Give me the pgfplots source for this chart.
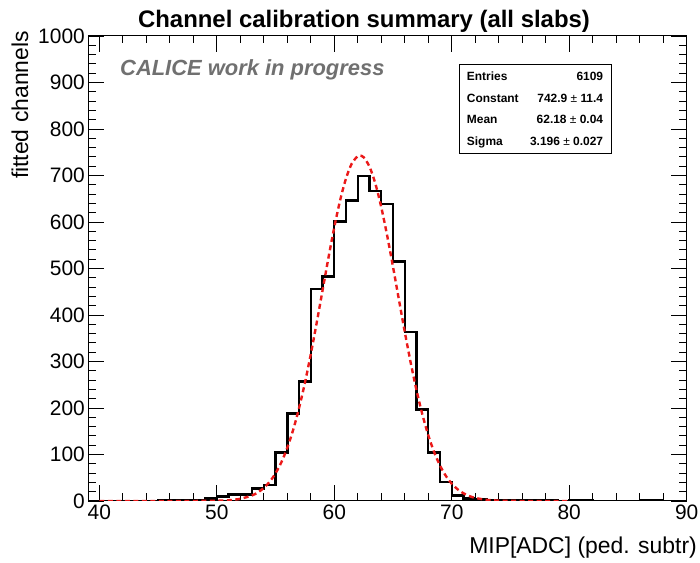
\documentclass[border=0pt]{standalone}
\usepackage{pgfplots}
\pgfplotsset{compat=1.18}
\usepackage{fontspec}
\setmainfont{Liberation Sans}
\definecolor{fitred}{RGB}{235,25,25}
\definecolor{wipgray}{RGB}{112,112,112}

% Histogram of fitted MIP positions, 1 ADC bins (left edge, entries)
\begin{document}
\begin{tikzpicture}[x=1bp,y=1bp]
\path[use as bounding box] (0,0) rectangle (700,563);
\begin{axis}[
  at={(88.3bp,62bp)}, anchor=south west,
  scale only axis, width=598.4bp, height=465bp,
  xmin=39.06, xmax=90, ymin=0, ymax=1000,
  xtick={40,50,...,90}, ytick={0,100,...,1000},
  minor x tick num=4, minor y tick num=4,
  tick align=inside, xtick pos=both, ytick pos=both,
  xticklabel pos=bottom, yticklabel pos=left,
  major tick length=16bp, minor tick length=7.5bp,
  axis line style={line width=1bp},
  every tick/.style={black, line width=0.9bp},
  tick label style={font=\fontsize{21}{21}\selectfont},
  /pgf/number format/assume math mode=true,
  /pgf/number format/1000 sep={},
]
\addplot[const plot, black, line width=2.4bp] coordinates {
  (39.06,0) (40,0) (41,0) (42,0) (43,0) (44,0) (45,1) (46,1) (47,2) (48,2)
  (49,5) (50,10) (51,14) (52,14) (53,27) (54,35) (55,104) (56,188) (57,257)
  (58,456) (59,483) (60,601) (61,646) (62,699) (63,666) (64,639) (65,515)
  (66,363) (67,197) (68,104) (69,41) (70,12) (71,5) (72,3) (73,2) (74,1)
  (75,1) (76,2) (77,1) (78,1) (79,0) (80,2) (81,1) (82,0) (83,0) (84,0)
  (85,0) (86,2) (87,1) (88,0) (89,0) (90,0)
};
% Gaussian fit: Constant 742.9, Mean 62.18, Sigma 3.196
\addplot[fitred, line width=2.4bp, dash pattern=on 5bp off 3.5bp, smooth] coordinates {
  (40,0) (45,0) (49,0.15) (50,0.52) (51,1.6) (52,4.7) (53,12.0) (53.5,18.6)
  (54,28.1) (54.5,41.4) (55,59.6) (55.5,83.6) (56,114.6) (56.5,153.1)
  (57,199.8) (57.5,254.3) (58,315.9) (58.5,382.9) (59,452.9) (59.5,522.7)
  (60,588.7) (60.5,647.0) (61,693.9) (61.5,726.3) (62,741.7) (62.18,742.9)
  (62.5,739.2) (63,718.8) (63.5,682.2) (64,631.7) (64.5,570.8) (65,503.4)
  (65.5,433.1) (66,363.7) (66.5,298.0) (67,238.2) (67.5,185.9) (68,141.5)
  (68.5,105.2) (69,76.2) (69.5,53.9) (70,37.2) (70.5,25.1) (71,16.5)
  (71.5,10.6) (72,6.6) (73,2.4) (74,0.8) (75,0.24) (76,0.05) (80,0)
};
\end{axis}

\node[anchor=base, inner sep=0, font=\bfseries\fontsize{24}{24}\selectfont]
  at (364,535) {Channel calibration summary (all slabs)};
\node[rotate=90, anchor=base east, inner sep=0, font=\fontsize{23}{23}\selectfont]
  at (28,532) {fitted channels};
\node[anchor=base east, inner sep=0, font=\fontsize{23}{23}\selectfont]
  at (697,9.7) {MIP[ADC] (ped. subtr)};
\node[anchor=base west, inner sep=0, text=wipgray,
  font=\bfseries\itshape\fontsize{22}{22}\selectfont]
  at (120,487) {CALICE work in progress};

% statistics box
\draw[line width=1bp, fill=white] (459.3,409.7) rectangle (611.7,498);
\begin{scope}[every node/.style={inner sep=0, font=\bfseries\fontsize{12}{12}\selectfont}]
\node[anchor=base west] at (466.7,482.3) {Entries};
\node[anchor=base east] at (603.3,482.3) {6109};
\node[anchor=base west] at (466.7,460.7) {Constant};
\node[anchor=base east] at (603.3,460.7) {742.9 {\mdseries ±} 11.4};
\node[anchor=base west] at (466.7,439) {Mean};
\node[anchor=base east] at (603.3,439) {62.18 {\mdseries ±} 0.04};
\node[anchor=base west] at (466.7,417.3) {Sigma};
\node[anchor=base east] at (603.3,417.3) {3.196 {\mdseries ±} 0.027};
\end{scope}
\end{tikzpicture}
\end{document}
